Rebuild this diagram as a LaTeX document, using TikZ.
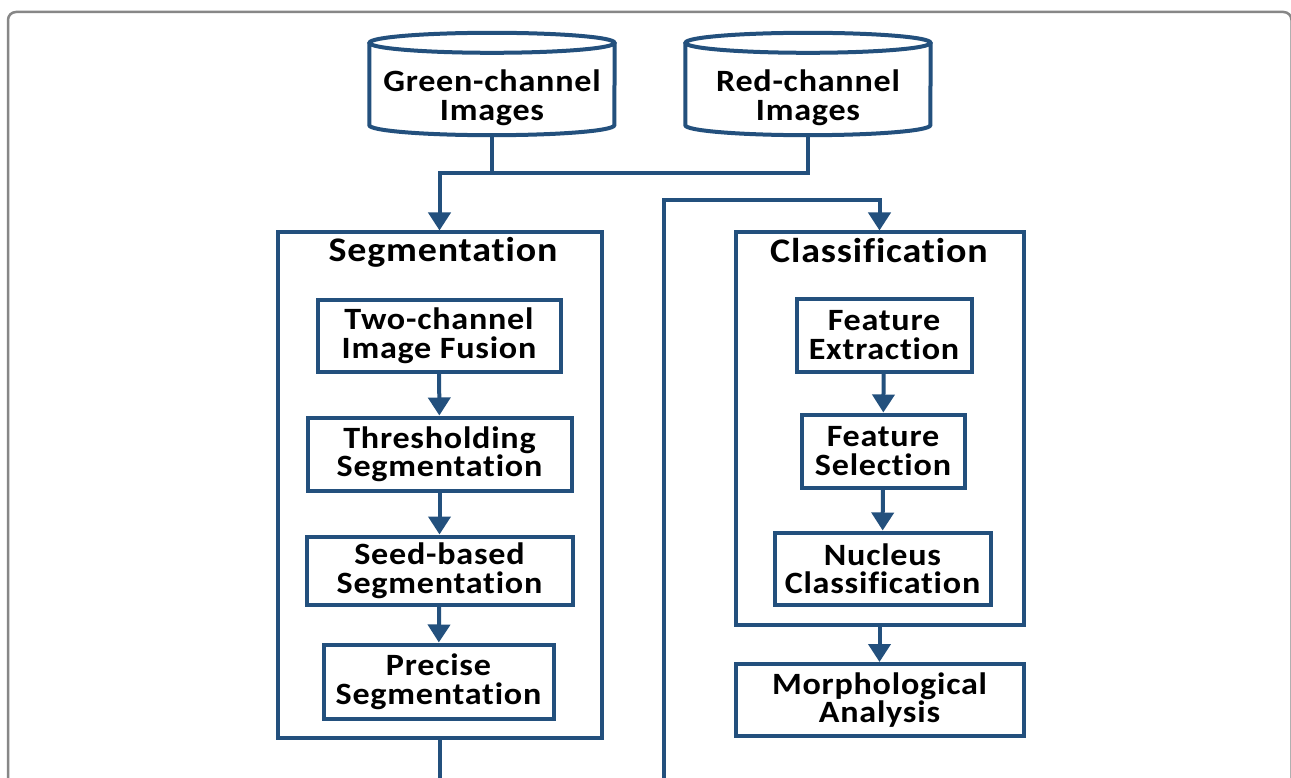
\documentclass[tikz,border=0pt]{standalone}
\usepackage{fontspec}
\setmainfont{Carlito}[FakeStretch=1.1, LetterSpace=2.5, Ligatures=NoCommon]
\usetikzlibrary{arrows.meta}
\definecolor{navy}{RGB}{35,80,125}
\definecolor{framegray}{RGB}{135,135,135}
\begin{document}
\begin{tikzpicture}[x=1pt,y=-1pt,
  conn/.style={draw=navy, line width=4pt},
  arr/.style={conn, -{Triangle[length=18pt,width=22pt]}},
  boxtxt/.style={font=\bfseries\fontsize{31}{28.5}\selectfont, align=center, text=black},
  stepbox/.style={boxtxt, draw=navy, line width=4pt, inner sep=0pt},
  groupbox/.style={draw=navy, line width=4pt, inner sep=0pt},
  titletxt/.style={font=\bfseries\fontsize{34.5}{34}\selectfont, text=black},
  cylbody/.style={boxtxt, inner sep=0pt, minimum width=245pt, minimum height=92pt}
]
\useasboundingbox (0,0) rectangle (1291,778);
\clip (0,0) rectangle (1291,778);
\fill[white] (0,0) rectangle (1291,778);
\draw[framegray, line width=2.5pt, rounded corners=8pt] (8,12) rectangle (1291.5,850);

% cylinders
\node[cylbody] (green) at (492,89) {};
\node[cylbody] (red) at (808,89) {};
\foreach \c in {green,red}{
  \draw[conn, fill=white] (\c.north west) -- ([yshift=10pt]\c.south west)
     arc[start angle=180, end angle=360, x radius=122.5pt, y radius=10pt] -- (\c.north east);
  \draw[conn] (\c.north) ellipse[x radius=122.5pt, y radius=10pt];
}
\node[boxtxt] (greent) at (492,98) {Green-channel\\Images};
\node[boxtxt] (redt) at (808,98) {Red-channel\\Images};

% group boxes
\node[groupbox, minimum width=324pt, minimum height=505pt] (seg) at (439.5,485) {};
\node[titletxt] (segt) at (443,252) {Segmentation};
\node[groupbox, minimum width=288pt, minimum height=392pt] (cls) at (879.5,428.5) {};
\node[titletxt] (clst) at (879,251) {Classification};

% segmentation steps
\node[stepbox, minimum width=243pt, minimum height=72pt] (fus) at (439,335.5) {Two-channel\\Image Fusion};
\node[stepbox, minimum width=264pt, minimum height=73pt] (thr) at (439.5,454) {Thresholding\\Segmentation};
\node[stepbox, minimum width=266pt, minimum height=68pt] (seed) at (439.5,570.5) {Seed-based\\Segmentation};
\node[stepbox, minimum width=230pt, minimum height=74pt] (prec) at (438.5,681.5) {Precise\\Segmentation};

% classification steps
\node[stepbox, minimum width=175pt, minimum height=73pt] (fext) at (884,335) {Feature\\Extraction};
\node[stepbox, minimum width=163pt, minimum height=73pt] (fsel) at (883,451) {Feature\\Selection};
\node[stepbox, minimum width=216pt, minimum height=72pt] (nuc) at (882.5,568.5) {Nucleus\\Classification};
\node[stepbox, minimum width=288pt, minimum height=72pt] (morph) at (879.5,700) {Morphological\\Analysis};

% connectors
\draw[conn] (green.south) -- ++(0,38);
\draw[arr] (red.south) -- ++(0,38) -| (seg.north);
\coordinate (lowl) at (439.5,820);
\coordinate (lowr) at (664,820);
\coordinate (topr) at (664,200);
\draw[arr] (seg.south) -- (lowl) -- (lowr) -- (topr) -| (cls.north);
\draw[arr] (fus) -- (thr);
\draw[arr] (thr) -- (seed);
\draw[arr] (seed) -- (prec);
\draw[arr] (fext) -- (fsel);
\draw[arr] (fsel) -- (nuc);
\draw[arr] (cls.south) -- (morph.north);
\end{tikzpicture}
\end{document}
